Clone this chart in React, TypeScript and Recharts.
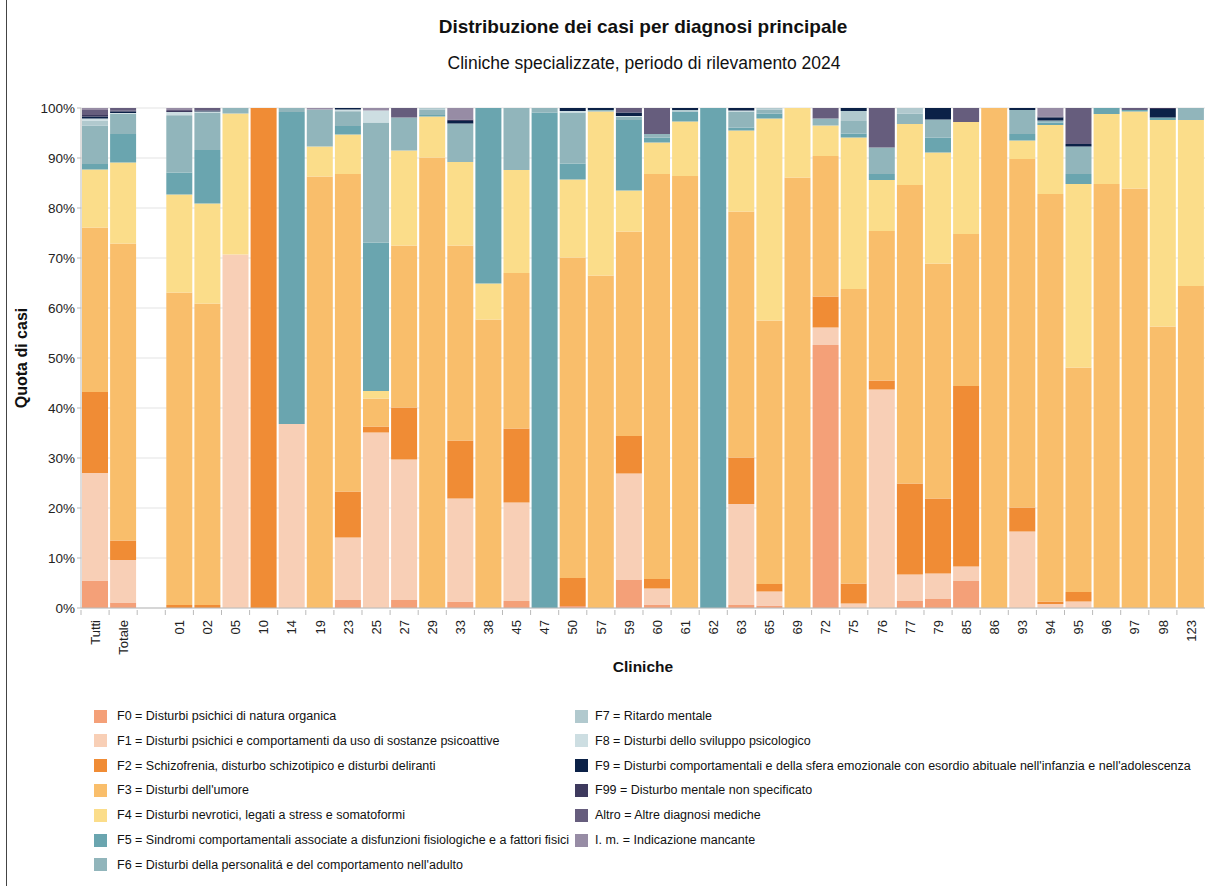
import { Bar, BarChart, CartesianGrid, XAxis, YAxis } from "recharts";

const clinics = [
  "Tutti", "Totale", "", "01", "02", "05", "10", "14", "19", "23",
  "25", "27", "29", "33", "38", "45", "47", "50", "57", "59",
  "60", "61", "62", "63", "65", "69", "72", "75", "76", "77",
  "79", "85", "86", "93", "94", "95", "96", "97", "98", "123",
];

// quota di casi in %, una voce per clinica (stesso ordine di `clinics`)
const f0 = [5.5, 1.1, 0, 0, 0, 0, 0, 0, 0, 1.6, 0, 1.6, 0, 1.3, 0, 1.4, 0, 0.4, 0, 5.6, 0.7, 0, 0, 0.6, 0.5, 0, 52.6, 0, 0, 1.4, 1.8, 5.4, 0, 0, 0, 0, 0, 0, 0, 0];
const f1 = [21.5, 8.5, 0, 0, 0, 70.7, 0, 36.8, 0, 12.5, 35.1, 28.1, 0, 20.6, 0, 19.7, 0, 0, 0, 21.3, 3.2, 0, 0, 20.2, 2.8, 0, 3.5, 0.9, 43.7, 5.3, 5.1, 2.9, 0, 15.3, 0.8, 1.3, 0, 0, 0, 0];
const f2 = [16.2, 3.9, 0, 0.6, 0.6, 0, 100, 0, 0, 9.2, 1.2, 10.4, 0, 11.6, 0, 14.8, 0, 5.6, 0, 7.5, 1.9, 0, 0, 9.3, 1.5, 0, 6.2, 4.0, 1.8, 18.2, 15.0, 36.1, 0, 4.8, 0.5, 1.9, 0, 0, 0, 0];
const f3 = [32.9, 59.4, 0, 62.5, 60.3, 0, 0, 0, 86.3, 63.5, 5.6, 32.4, 90.1, 39.0, 57.7, 31.1, 0, 64.1, 66.5, 40.9, 81.0, 86.4, 0, 49.2, 52.7, 86.1, 28.1, 58.9, 29.9, 59.7, 47.0, 30.4, 100, 69.7, 81.5, 44.9, 84.8, 83.9, 56.3, 64.4];
const f4 = [11.6, 16.2, 0, 19.6, 20.0, 28.2, 0, 0, 6.0, 7.9, 1.5, 19.0, 8.2, 16.7, 7.2, 20.6, 0, 15.6, 32.8, 8.2, 6.3, 10.9, 0, 16.2, 40.4, 13.9, 6.1, 30.3, 10.2, 12.2, 22.2, 22.4, 0, 3.7, 13.8, 36.7, 14.0, 15.4, 41.3, 33.2];
const f5 = [1.1, 5.7, 0, 4.4, 10.7, 0, 0, 62.4, 0, 1.7, 29.7, 0, 0.3, 0, 35.1, 0, 99.1, 3.2, 0, 14.1, 1.0, 2.0, 100, 0.6, 1.0, 0, 0, 0.8, 1.2, 0, 3.0, 0, 0, 1.3, 0.5, 2.0, 1.2, 0.3, 0.5, 0];
const f6 = [7.7, 4.0, 0, 11.3, 7.5, 1.1, 0, 0.8, 7.4, 2.8, 24.0, 6.6, 1.1, 7.7, 0, 12.4, 0.9, 10.2, 0.3, 0.6, 0.7, 0, 0, 3.2, 0.8, 0, 1.4, 2.5, 5.3, 2.1, 3.6, 0, 0, 4.8, 0.4, 5.5, 0, 0, 0, 2.4];
const f7 = [1.0, 0.1, 0, 0.2, 0, 0, 0, 0, 0, 0.2, 0, 0, 0.3, 0, 0, 0, 0, 0, 0, 0, 0, 0.3, 0, 0, 0.3, 0, 0, 2.0, 0, 1.1, 0, 0, 0, 0, 0, 0, 0, 0, 0, 0];
const f8 = [0.4, 0.1, 0, 0.6, 0.2, 0, 0, 0, 0, 0.3, 2.4, 0, 0, 0, 0, 0, 0, 0.3, 0, 0.2, 0, 0, 0, 0.2, 0, 0, 0, 0, 0, 0, 0, 0, 0, 0, 0, 0, 0, 0, 0, 0];
const f9 = [0.4, 0.3, 0, 0, 0.2, 0, 0, 0, 0, 0.3, 0, 0, 0, 0.5, 0, 0, 0, 0.6, 0.4, 0.7, 0, 0.4, 0, 0.5, 0, 0, 0, 0.6, 0, 0, 2.3, 0, 0, 0.4, 0.6, 0.5, 0, 0, 1.7, 0];
const f99 = [0.3, 0.2, 0, 0.2, 0, 0, 0, 0, 0, 0, 0, 0, 0, 0.3, 0, 0, 0, 0, 0, 0, 0, 0, 0, 0, 0, 0, 0, 0, 0, 0, 0, 0, 0, 0, 0.2, 0, 0, 0, 0.2, 0];
const altro = [1.0, 0.5, 0, 0.2, 0.5, 0, 0, 0, 0, 0, 0, 1.9, 0, 0, 0, 0, 0, 0, 0, 0.9, 5.2, 0, 0, 0, 0, 0, 2.1, 0, 7.9, 0, 0, 2.8, 0, 0, 0, 7.2, 0, 0.4, 0, 0];
const im = [0.4, 0, 0, 0.4, 0, 0, 0, 0, 0.3, 0, 0.5, 0, 0, 2.3, 0, 0, 0, 0, 0, 0, 0, 0, 0, 0, 0, 0, 0, 0, 0, 0, 0, 0, 0, 0, 1.7, 0, 0, 0, 0, 0];

const series = [
  { key: "F0", values: f0, color: "#f4a078", label: "F0 = Disturbi psichici di natura organica" },
  { key: "F1", values: f1, color: "#f8cfb6", label: "F1 = Disturbi psichici e comportamenti da uso di sostanze psicoattive" },
  { key: "F2", values: f2, color: "#f08c35", label: "F2 = Schizofrenia, disturbo schizotipico e disturbi deliranti" },
  { key: "F3", values: f3, color: "#f9be6b", label: "F3 = Disturbi dell'umore" },
  { key: "F4", values: f4, color: "#fbdd8a", label: "F4 = Disturbi nevrotici, legati a stress e somatoformi" },
  { key: "F5", values: f5, color: "#6aa5af", label: "F5 = Sindromi comportamentali associate a disfunzioni fisiologiche e a fattori fisici" },
  { key: "F6", values: f6, color: "#91b5bb", label: "F6 = Disturbi della personalitá e del comportamento nell'adulto" },
  { key: "F7", values: f7, color: "#b1c9ce", label: "F7 = Ritardo mentale" },
  { key: "F8", values: f8, color: "#cddee2", label: "F8 = Disturbi dello sviluppo psicologico" },
  { key: "F9", values: f9, color: "#0b2147", label: "F9 = Disturbi comportamentali e della sfera emozionale con esordio abituale nell'infanzia e nell'adolescenza" },
  { key: "F99", values: f99, color: "#3e3a5e", label: "F99 = Disturbo mentale non specificato" },
  { key: "Altro", values: altro, color: "#665d7d", label: "Altro = Altre diagnosi mediche" },
  { key: "Im", values: im, color: "#978ca5", label: "I. m. = Indicazione mancante" },
];

const data = clinics.map((name, i) => {
  const row: Record<string, string | number> = { name };
  series.forEach((s) => {
    row[s.key] = s.values[i];
  });
  return row;
});

const FONT = '"Liberation Sans", Arial, sans-serif';
const STEP = 1124 / clinics.length;

function ClinicTick({ x, y, payload }: any) {
  return (
    <g transform={`translate(${x},${y})`}>
      <line x1={-STEP / 2} x2={-STEP / 2} y1={-6} y2={-1} stroke="#bbb" />
      <text
        transform="rotate(-90)"
        x={-4}
        y={0}
        dy="0.36em"
        textAnchor="end"
        fontSize={13}
        fill="#222"
        fontFamily={FONT}
      >
        {payload.value}
      </text>
    </g>
  );
}

export default function App() {
  return (
    <div
      style={{
        position: "absolute",
        left: 0,
        top: 0,
        width: 1206,
        height: 886,
        background: "#fff",
        fontFamily: FONT,
        color: "#111",
        overflow: "hidden",
      }}
    >
      <div style={{ position: "absolute", left: 6, top: 0, width: 1, height: 886, background: "#444" }} />
      <div style={{ position: "absolute", left: 0, width: 1286, top: 16, textAlign: "center", fontSize: 19, fontWeight: "bold" }}>
        Distribuzione dei casi per diagnosi principale
      </div>
      <div style={{ position: "absolute", left: 0, width: 1288, top: 53, textAlign: "center", fontSize: 17.5 }}>
        Cliniche specializzate, periodo di rilevamento 2024
      </div>
      <div
        style={{
          position: "absolute",
          left: 22,
          top: 358,
          fontSize: 16,
          fontWeight: "bold",
          whiteSpace: "nowrap",
          transform: "translate(-50%, -50%) rotate(-90deg)",
        }}
      >
        Quota di casi
      </div>
      <div style={{ position: "absolute", left: 0, width: 1286, top: 658, textAlign: "center", fontSize: 15.5, fontWeight: "bold" }}>
        Cliniche
      </div>

      <div style={{ position: "absolute", left: 0, top: 0 }}>
        <BarChart
          width={1206}
          height={700}
          data={data}
          stackOffset="expand"
          barCategoryGap={1}
          margin={{ top: 108, right: 1, bottom: 32, left: 0 }}
        >
          <CartesianGrid stroke="#e3e3e3" vertical={false} />
          <XAxis
            dataKey="name"
            interval={0}
            height={60}
            tick={<ClinicTick />}
            tickLine={false}
            stroke="#bbb"
          />
          <YAxis
            width={81}
            domain={[0, 1]}
            ticks={[0, 0.1, 0.2, 0.3, 0.4, 0.5, 0.6, 0.7, 0.8, 0.9, 1]}
            tickFormatter={(v: number) => `${Math.round(v * 100)}%`}
            tick={{ fontSize: 13.5, fill: "#222", fontFamily: FONT }}
            tickSize={4}
            stroke="#bbb"
          />
          {series.map((s) => (
            <Bar key={s.key} dataKey={s.key} stackId="a" fill={s.color} isAnimationActive={false} />
          ))}
        </BarChart>
      </div>

      {series.map((s, i) => {
        const col = i < 7 ? 0 : 1;
        const row = col === 0 ? i : i - 7;
        return (
          <div
            key={s.key}
            style={{
              position: "absolute",
              left: col === 0 ? 94 : 575,
              top: 716 + row * 24.8 - 7,
              height: 14,
              display: "flex",
              alignItems: "center",
              whiteSpace: "nowrap",
              fontSize: 12.5,
            }}
          >
            <span style={{ width: 13, height: 13, background: s.color, display: "inline-block", marginRight: col === 0 ? 10 : 7 }} />
            <span>{s.label}</span>
          </div>
        );
      })}
    </div>
  );
}
